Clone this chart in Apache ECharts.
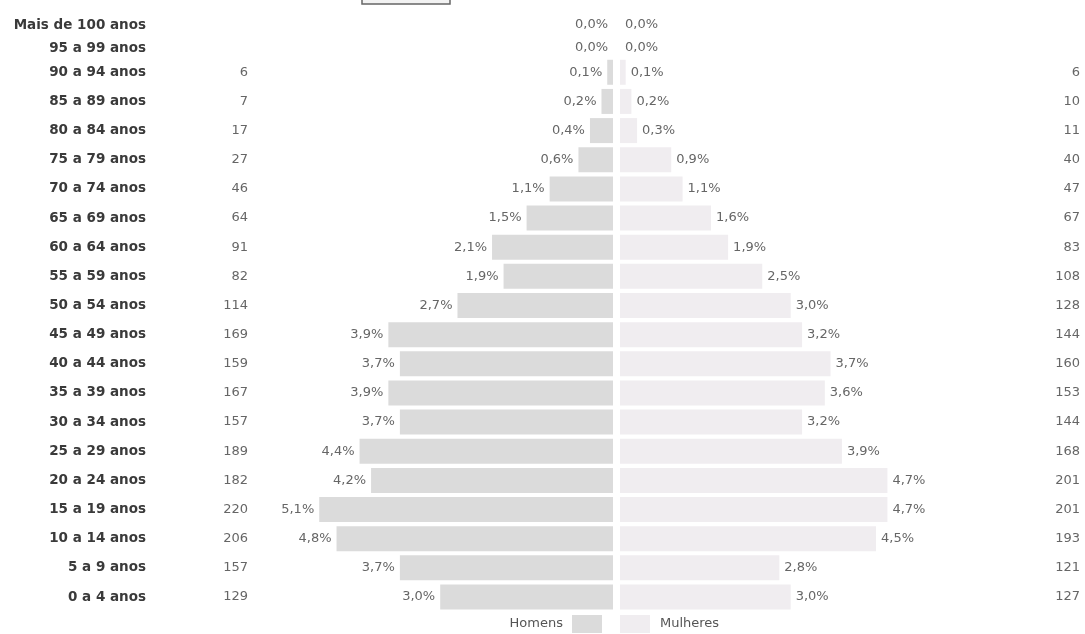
<!DOCTYPE html>
<html>
<head>
<meta charset="utf-8">
<script src="https://cdn.jsdelivr.net/npm/echarts@6/dist/echarts.min.js"></script>
<style>
html,body{margin:0;padding:0;background:#fff;}
#chart{width:1085px;height:634px;}
</style>
</head>
<body>
<div id="chart"></div>
<script>
// Data (bottom to top)
const ages = ['0 a 4 anos', '5 a 9 anos', '10 a 14 anos', '15 a 19 anos', '20 a 24 anos', '25 a 29 anos', '30 a 34 anos', '35 a 39 anos', '40 a 44 anos', '45 a 49 anos', '50 a 54 anos', '55 a 59 anos', '60 a 64 anos', '65 a 69 anos', '70 a 74 anos', '75 a 79 anos', '80 a 84 anos', '85 a 89 anos', '90 a 94 anos', '95 a 99 anos', 'Mais de 100 anos'];
const malePct = [3.0, 3.7, 4.8, 5.1, 4.2, 4.4, 3.7, 3.9, 3.7, 3.9, 2.7, 1.9, 2.1, 1.5, 1.1, 0.6, 0.4, 0.2, 0.1, 0.0, 0.0];
const femalePct = [3.0, 2.8, 4.5, 4.7, 4.7, 3.9, 3.2, 3.6, 3.7, 3.2, 3.0, 2.5, 1.9, 1.6, 1.1, 0.9, 0.3, 0.2, 0.1, 0.0, 0.0];
const maleCount = [129, 157, 206, 220, 182, 189, 157, 167, 159, 169, 114, 82, 91, 64, 46, 27, 17, 7, 6, null, null];
const femaleCount = [127, 121, 193, 201, 201, 168, 144, 153, 160, 144, 128, 108, 83, 67, 47, 40, 11, 10, 6, null, null];
const seriesNames = ['Homens', 'Mulheres'];

const chart = echarts.init(document.getElementById('chart'));

const FONT = 'DejaVu Sans';
const pctFmt = p => p.value.toFixed(1).replace('.', ',') + '%';
const MAIN_N = 19; // rows in main block
const segments = [
  { from: 0, to: MAIN_N, top: 57.7, height: 553.9, barWidth: 25 },
  { from: MAIN_N, to: ages.length, top: 13.5, height: 46, barWidth: 20 }
];
const maleLeft = 250, maleRight = 613, femLeft = 620, femRight = 1082;
const maleMax = (maleRight - maleLeft) / 57.6;
const femMax = (femRight - femLeft) / 56.9;

const grid = [], xAxis = [], yAxis = [], series = [];
segments.forEach((seg, s) => {
  const cats = ages.slice(seg.from, seg.to);
  const mc = maleCount.slice(seg.from, seg.to);
  const fc = femaleCount.slice(seg.from, seg.to);
  // male grid
  const gm = grid.length;
  grid.push({ left: maleLeft, width: maleRight - maleLeft, top: seg.top, height: seg.height, containLabel: false });
  xAxis.push({ type: 'value', gridIndex: gm, inverse: true, min: 0, max: maleMax, show: false });
  yAxis.push({
    type: 'category', gridIndex: gm, data: cats, position: 'left',
    axisLine: { show: false }, axisTick: { show: false },
    axisLabel: {
      margin: 2,
      formatter: (v, i) => '{a|' + v + '}{b|' + (mc[i] == null ? '' : mc[i]) + '}',
      rich: {
        a: { width: 140, align: 'right', fontFamily: FONT, fontWeight: 'bold', fontSize: 13.5, color: '#3a3a3a' },
        b: { width: 102, align: 'right', fontFamily: FONT, fontSize: 13, color: '#666' }
      }
    }
  });
  series.push({
    name: seriesNames[0], type: 'bar', xAxisIndex: gm, yAxisIndex: gm,
    data: malePct.slice(seg.from, seg.to), barWidth: seg.barWidth,
    itemStyle: { color: '#dbdbdb' },
    label: { show: true, position: 'left', distance: 5, formatter: pctFmt, fontFamily: FONT, fontSize: 13, color: '#666' },
    silent: true
  });
  // female grid
  const gf = grid.length;
  grid.push({ left: femLeft, width: femRight - femLeft, top: seg.top, height: seg.height, containLabel: false });
  xAxis.push({ type: 'value', gridIndex: gf, min: 0, max: femMax, show: false });
  yAxis.push({
    type: 'category', gridIndex: gf, data: cats, position: 'right',
    axisLine: { show: false }, axisTick: { show: false },
    axisLabel: {
      inside: true, margin: 2,
      formatter: (v, i) => (fc[i] == null ? '' : String(fc[i])),
      fontFamily: FONT, fontSize: 13, color: '#666'
    }
  });
  series.push({
    name: seriesNames[1], type: 'bar', xAxisIndex: gf, yAxisIndex: gf,
    data: femalePct.slice(seg.from, seg.to), barWidth: seg.barWidth,
    itemStyle: { color: '#f0edf0' },
    label: { show: true, position: 'right', distance: 5, formatter: pctFmt, fontFamily: FONT, fontSize: 13, color: '#666' },
    silent: true
  });
});

chart.setOption({
  animation: false,
  backgroundColor: '#fff',
  grid, xAxis, yAxis, series,
  legend: [
    {
      data: [seriesNames[0]], align: 'right', right: 1085 - 602, top: 615, padding: 0,
      itemWidth: 30, itemHeight: 18, icon: 'rect', selectedMode: false,
      textStyle: { fontFamily: FONT, fontSize: 13, color: '#555', padding: [0, 4, 0, 0] }
    },
    {
      data: [seriesNames[1]], align: 'left', left: 620, top: 615, padding: 0,
      itemWidth: 30, itemHeight: 18, icon: 'rect', selectedMode: false,
      textStyle: { fontFamily: FONT, fontSize: 13, color: '#555', padding: [0, 0, 0, 5] }
    }
  ],
  graphic: [
    { type: 'rect', shape: { x: 362, y: -12, width: 88, height: 16 }, style: { fill: '#f2f2f2', stroke: '#666', lineWidth: 1.5 } }
  ]
});
</script>
</body>
</html>
